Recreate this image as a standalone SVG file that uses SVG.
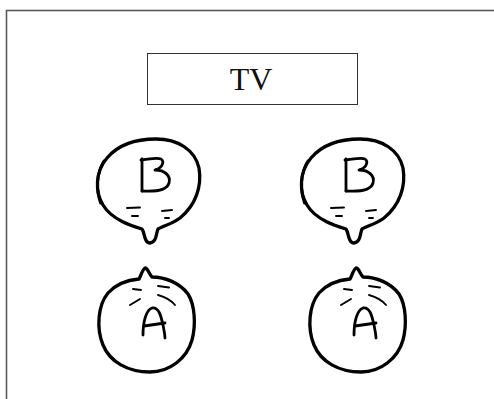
<svg xmlns="http://www.w3.org/2000/svg" xmlns:xlink="http://www.w3.org/1999/xlink" width="494" height="399" viewBox="0 0 494 399">
  <style>
    .frame { fill: none; stroke: #5a5a5a; stroke-width: 1.6; }
    .box { fill: #ffffff; stroke: #333333; stroke-width: 1; }
    .label { font-family: "Liberation Serif", "DejaVu Serif", serif; font-size: 32px; fill: #111111; }
    .outline { fill: #ffffff; stroke: #000000; stroke-width: 3.3; stroke-linejoin: round; stroke-linecap: round; }
    .ink { fill: none; stroke: #000000; stroke-width: 2.8; stroke-linejoin: round; stroke-linecap: round; }
    .mark { fill: none; stroke: #000000; stroke-width: 1.9; stroke-linecap: round; }
  </style>
  <defs>
    <!-- speech-bubble face with a drip and the letter B -->
    <g id="faceB">
      <path class="outline" d="M142,229 C132,226 112,220 103,205 C95,192 95,172 107,158 C118,145 135,139 156,139 C178,139 195,150 199,168 C202,186 196,205 180,218 C172,224 163,226 158,229 C156,233 157,242 150,243 C144,243 145,233 142,229 Z"/>
      <path class="ink" d="M100.5,203 C96,190 96,174 104,161" stroke-width="2.4"/>
      <path class="ink" d="M142,159 L142,191"/>
      <path class="ink" d="M141,160 C150,159 157,157 161,159 C165,162 162,168 155,170 C165,170 171,176 169,183 C167,190 158,192 142,191"/>
      <path class="mark" d="M127,208 L140,207.5 M132,216 L138,216 M162,211 L172,210 M165,218 L169,218"/>
    </g>
    <!-- round face with a small knob on top and the letter A -->
    <g id="faceA">
      <path class="outline" d="M139,279 C141,276 142,270 145,268 C148,268 149,274 152,277 C165,277 180,283 188,294 C195,305 196,325 192,340 C187,358 170,372 150,372 C128,372 110,362 103,345 C96,328 98,305 108,293 C116,284 128,280 139,279 Z"/>
      <path class="mark" d="M133,289 L141,290 M158,286 L169,287.5 M130,305 L140,299 M158,295 C165,297 171,300 175,305"/>
      <path class="ink" d="M143,335 C143,322 146,310 152,308 C159,307 161,316 163,325 C164,330 165,335 165,338"/>
      <path class="ink" d="M144,326 L165,323"/>
    </g>
  </defs>

  <rect x="0" y="0" width="494" height="399" fill="#ffffff"/>
  <rect class="frame" x="6.5" y="10.5" width="500" height="400"/>

  <g id="tv">
    <rect class="box" x="147.5" y="53.5" width="210" height="51"/>
    <text class="label" x="251" y="90" text-anchor="middle">TV</text>
  </g>

  <g id="b-left"><use xlink:href="#faceB"/></g>
  <g id="b-right"><use xlink:href="#faceB" transform="translate(204,0)"/></g>
  <g id="a-left"><use xlink:href="#faceA"/></g>
  <g id="a-right"><use xlink:href="#faceA" transform="translate(211,0)"/></g>

  <g id="connectors"/>
</svg>
